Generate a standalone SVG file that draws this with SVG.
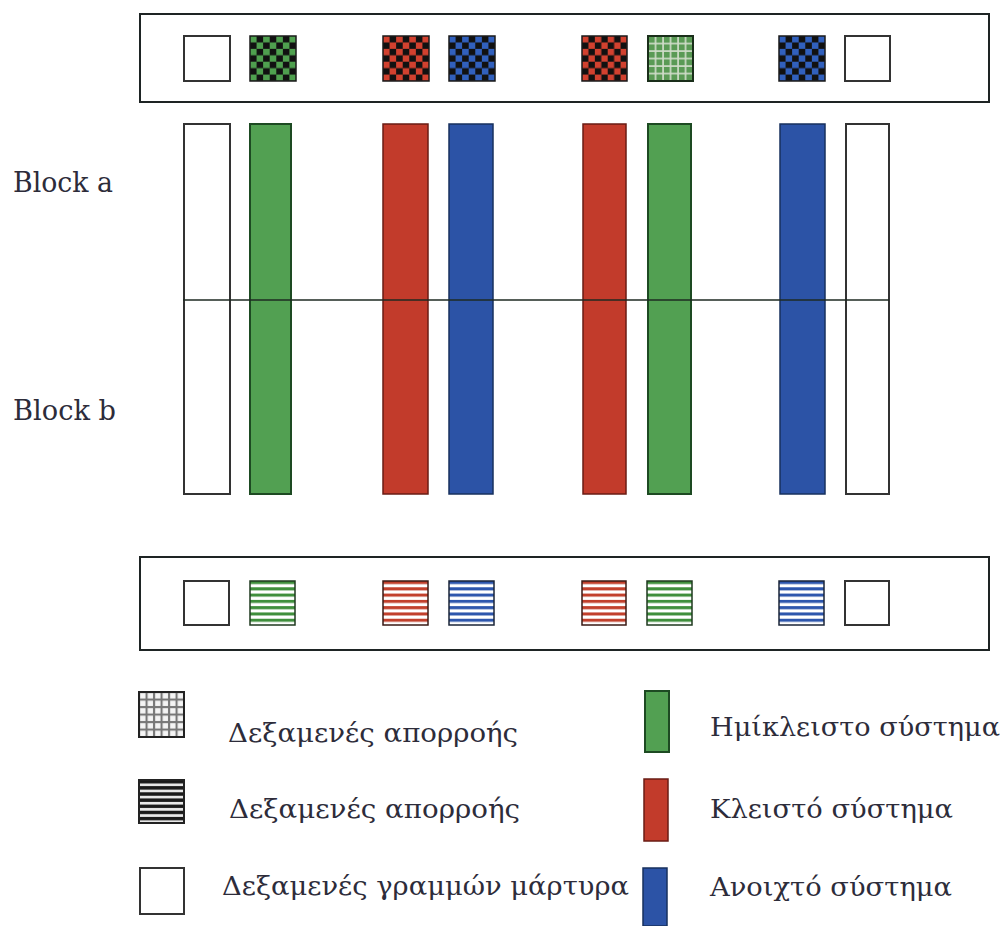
<svg xmlns="http://www.w3.org/2000/svg" width="1003" height="926" viewBox="0 0 1003 926">
<defs>
<style>
.frame{fill:#fff;stroke:#1e2424;stroke-width:2}
.wbox{fill:#fff;stroke:#333;stroke-width:2}
.g{fill:#52a052;stroke:#1d4a22;stroke-width:2}
.r{fill:#c23b2b;stroke:#6a1d15;stroke-width:1.5}
.b{fill:#2c53a6;stroke:#17305e;stroke-width:1.5}
text{font-family:'DejaVu Serif','Liberation Serif',serif;fill:#2d2c3a}
.lbl{font-size:27px}
.leg{font-size:26px}
</style>
<pattern id="chkG" patternUnits="objectBoundingBox" patternContentUnits="objectBoundingBox" width="0.2857" height="0.2857">
<rect width="0.2857" height="0.2857" fill="#111"/><rect width="0.1429" height="0.1429" fill="#4fa04f"/><rect x="0.1429" y="0.1429" width="0.1429" height="0.1429" fill="#4fa04f"/></pattern>
<pattern id="chkR" patternUnits="objectBoundingBox" patternContentUnits="objectBoundingBox" width="0.2857" height="0.2857">
<rect width="0.2857" height="0.2857" fill="#111"/><rect width="0.1429" height="0.1429" fill="#d2412f"/><rect x="0.1429" y="0.1429" width="0.1429" height="0.1429" fill="#d2412f"/></pattern>
<pattern id="chkB" patternUnits="objectBoundingBox" patternContentUnits="objectBoundingBox" width="0.2857" height="0.2857">
<rect width="0.2857" height="0.2857" fill="#111"/><rect width="0.1429" height="0.1429" fill="#3160bd"/><rect x="0.1429" y="0.1429" width="0.1429" height="0.1429" fill="#3160bd"/></pattern>
<pattern id="gridG" patternUnits="objectBoundingBox" patternContentUnits="objectBoundingBox" width="0.1667" height="0.1667">
<rect width="0.1667" height="0.1667" fill="#cfdcc8"/><rect x="0.02" y="0.02" width="0.13" height="0.13" fill="#5a9a55"/></pattern>
<pattern id="stG" patternUnits="objectBoundingBox" patternContentUnits="objectBoundingBox" width="1" height="0.1429">
<rect width="1" height="0.1429" fill="#fff"/><rect width="1" height="0.07" fill="#3f8f3c"/></pattern>
<pattern id="stR" patternUnits="objectBoundingBox" patternContentUnits="objectBoundingBox" width="1" height="0.1429">
<rect width="1" height="0.1429" fill="#fff"/><rect width="1" height="0.07" fill="#c2402c"/></pattern>
<pattern id="stB" patternUnits="objectBoundingBox" patternContentUnits="objectBoundingBox" width="1" height="0.1429">
<rect width="1" height="0.1429" fill="#fff"/><rect width="1" height="0.07" fill="#2d56ad"/></pattern>
<pattern id="stK" patternUnits="objectBoundingBox" patternContentUnits="objectBoundingBox" width="1" height="0.1429">
<rect width="1" height="0.1429" fill="#e8e8e8"/><rect width="1" height="0.08" fill="#1a1a1a"/></pattern>
<pattern id="gridK" patternUnits="objectBoundingBox" patternContentUnits="objectBoundingBox" width="0.1667" height="0.1667">
<rect width="0.1667" height="0.1667" fill="#777"/><rect x="0.025" y="0.025" width="0.12" height="0.12" fill="#f4f4f4"/></pattern>
</defs>
<rect width="1003" height="926" fill="#fff"/>

<g id="top-frame">
<rect class="frame" x="140" y="14" width="849" height="88"/>
<rect class="wbox" x="184" y="36" width="46" height="45"/>
<rect x="250" y="36" width="46" height="45" fill="url(#chkG)" stroke="#1a1a1a" stroke-width="1.5"/>
<rect x="383" y="36" width="46" height="45" fill="url(#chkR)" stroke="#1a1a1a" stroke-width="1.5"/>
<rect x="449" y="36" width="46" height="45" fill="url(#chkB)" stroke="#1a1a1a" stroke-width="1.5"/>
<rect x="582" y="36" width="45" height="45" fill="url(#chkR)" stroke="#1a1a1a" stroke-width="1.5"/>
<rect x="648" y="36" width="45" height="45" fill="url(#gridG)" stroke="#1a2e1a" stroke-width="2"/>
<rect x="779" y="36" width="46" height="45" fill="url(#chkB)" stroke="#1a1a1a" stroke-width="1.5"/>
<rect class="wbox" x="845" y="36" width="45" height="45"/>
</g>

<g id="bars">
<rect class="wbox" x="184" y="124" width="46" height="370"/>
<rect class="g" x="250" y="124" width="41" height="370"/>
<rect class="r" x="383" y="124" width="45" height="370"/>
<rect class="b" x="449" y="124" width="44" height="370"/>
<rect class="r" x="583" y="124" width="43" height="370"/>
<rect class="g" x="648" y="124" width="43" height="370"/>
<rect class="b" x="780" y="124" width="45" height="370"/>
<rect class="wbox" x="846" y="124" width="43" height="370"/>
</g>

<g id="connectors">
<line x1="183" y1="300" x2="889" y2="300" stroke="#1e2a22" stroke-width="1.5"/>
</g>

<g id="block-labels">
<text class="lbl" x="13" y="192" textLength="100" lengthAdjust="spacingAndGlyphs">Block a</text>
<text class="lbl" x="13" y="420" textLength="103" lengthAdjust="spacingAndGlyphs">Block b</text>
</g>

<g id="bottom-frame">
<rect class="frame" x="140" y="557" width="849" height="93"/>
<rect class="wbox" x="184" y="581" width="45" height="44"/>
<rect x="250" y="581" width="45" height="44" fill="url(#stG)" stroke="#1f3a1f" stroke-width="1.5"/>
<rect x="383" y="581" width="45" height="44" fill="url(#stR)" stroke="#3a1a14" stroke-width="1.5"/>
<rect x="449" y="581" width="45" height="44" fill="url(#stB)" stroke="#1a2438" stroke-width="1.5"/>
<rect x="582" y="581" width="44" height="44" fill="url(#stR)" stroke="#3a1a14" stroke-width="1.5"/>
<rect x="647" y="581" width="45" height="44" fill="url(#stG)" stroke="#1f3a1f" stroke-width="1.5"/>
<rect x="779" y="581" width="45" height="44" fill="url(#stB)" stroke="#1a2438" stroke-width="1.5"/>
<rect class="wbox" x="845" y="581" width="44" height="44"/>
</g>

<g id="legend">
<rect x="139" y="692" width="45" height="45" fill="url(#gridK)" stroke="#222" stroke-width="2"/>
<rect x="139" y="780" width="45" height="43" fill="url(#stK)" stroke="#222" stroke-width="2"/>
<rect class="wbox" x="140" y="868" width="44" height="46"/>
<text class="leg" x="228" y="742" textLength="290" lengthAdjust="spacingAndGlyphs">Δεξαμενές απορροής</text>
<text class="leg" x="229" y="818" textLength="291" lengthAdjust="spacingAndGlyphs">Δεξαμενές απορροής</text>
<text class="leg" x="222" y="895" textLength="407" lengthAdjust="spacingAndGlyphs">Δεξαμενές γραμμών μάρτυρα</text>
<rect class="g" x="645" y="691" width="24" height="61"/>
<rect class="r" x="644" y="779" width="24" height="62"/>
<rect class="b" x="643" y="868" width="24" height="58"/>
<text class="leg" x="710" y="736" textLength="290" lengthAdjust="spacingAndGlyphs">Ημίκλειστο σύστημα</text>
<text class="leg" x="710" y="818" textLength="243" lengthAdjust="spacingAndGlyphs">Κλειστό σύστημα</text>
<text class="leg" x="710" y="896" textLength="242" lengthAdjust="spacingAndGlyphs">Ανοιχτό σύστημα</text>
</g>
</svg>
